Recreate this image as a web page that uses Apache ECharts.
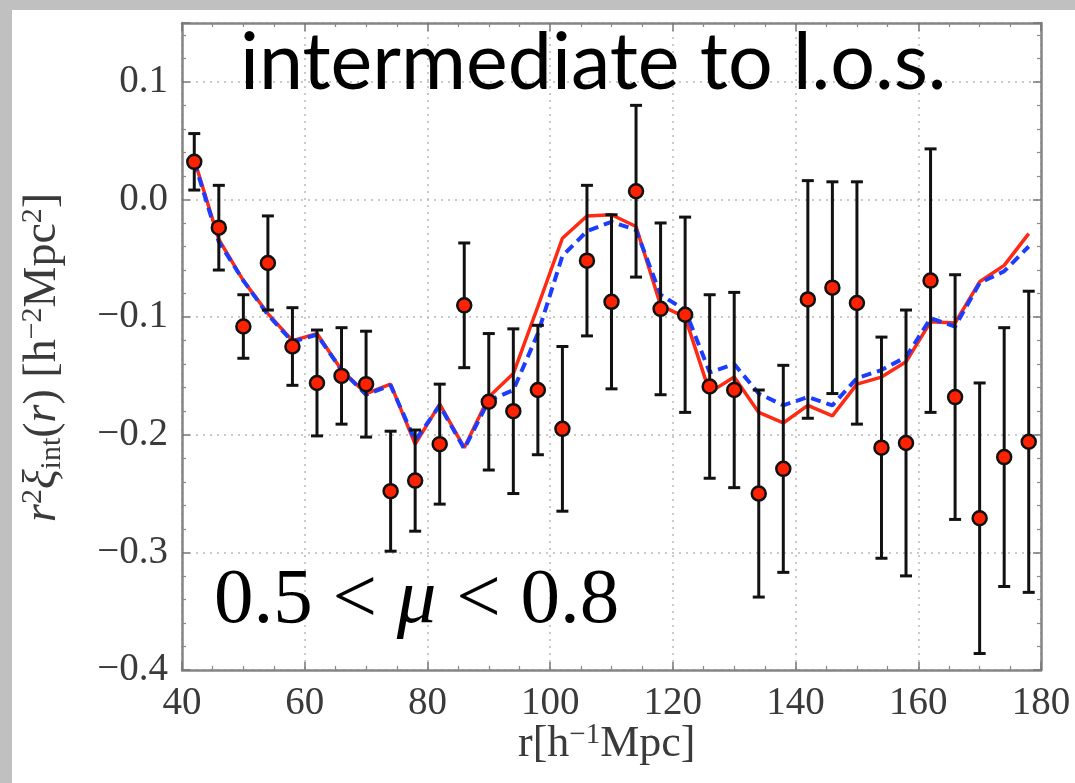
<!DOCTYPE html>
<html>
<head>
<meta charset="utf-8">
<script src="https://cdn.jsdelivr.net/npm/echarts@6/dist/echarts.min.js"></script>
<style>
  html, body { margin: 0; padding: 0; background: #c0c0c0; }
  #chart { width: 1075px; height: 783px; }
</style>
</head>
<body>
<div id="chart"></div>
<script>
// Separation r (h^-1 Mpc) of each bin
const rBins = [42, 46, 50, 54, 58, 62, 66, 70, 74, 78, 82, 86, 90, 94, 98, 102, 106, 110,
  114, 118, 122, 126, 130, 134, 138, 142, 146, 150, 154, 158, 162, 166, 170, 174, 178];

// Measured r^2 xi_int(r) with 1-sigma errors
const xiMeasured = [0.032, -0.024, -0.108, -0.054, -0.125, -0.156, -0.150, -0.157, -0.248, -0.239,
  -0.208, -0.090, -0.172, -0.180, -0.162, -0.195, -0.052, -0.087, 0.007, -0.093, -0.098, -0.159,
  -0.162, -0.250, -0.229, -0.085, -0.075, -0.088, -0.211, -0.207, -0.069, -0.168, -0.271, -0.219, -0.206];
const xiError = [0.024, 0.036, 0.027, 0.040, 0.033, 0.045, 0.041, 0.045, 0.051, 0.043,
  0.051, 0.053, 0.058, 0.070, 0.055, 0.070, 0.064, 0.074, 0.073, 0.073, 0.083, 0.078,
  0.083, 0.088, 0.088, 0.101, 0.090, 0.103, 0.094, 0.113, 0.112, 0.104, 0.115, 0.110, 0.128];

// Model curves
const modelSolid = [0.034, -0.034, -0.069, -0.097, -0.120, -0.114, -0.145, -0.165, -0.157, -0.208,
  -0.174, -0.211, -0.168, -0.148, -0.091, -0.033, -0.014, -0.013, -0.023, -0.090, -0.100, -0.164,
  -0.151, -0.181, -0.190, -0.175, -0.184, -0.157, -0.151, -0.138, -0.104, -0.105, -0.070, -0.056, -0.029];
const modelDashed = [0.032, -0.036, -0.069, -0.098, -0.121, -0.115, -0.145, -0.166, -0.158, -0.205,
  -0.175, -0.212, -0.171, -0.162, -0.114, -0.048, -0.027, -0.019, -0.026, -0.081, -0.094, -0.147,
  -0.140, -0.165, -0.175, -0.168, -0.175, -0.152, -0.145, -0.134, -0.101, -0.108, -0.071, -0.061, -0.040];

// Axis ranges and tick spacing
const xRange = [40, 180], xStep = 20;
const yRange = [-0.4, 0.15], yStep = 0.1;

const serif = '"Liberation Serif", "DejaVu Serif", serif';
const frameColor = '#858585';
const labelColor = '#3a3a3a';

const fmtY = v => {
  const s = (Math.abs(v) < 1e-9 ? 0 : v).toFixed(1);
  return s.replace('-', '\u2212');
};

const chart = echarts.init(document.getElementById('chart'), null, { renderer: 'canvas' });

const errBarData = rBins.map((r, i) => [r, xiMeasured[i] - xiError[i], xiMeasured[i] + xiError[i]]);

function baseX(pos, labels) {
  return {
    type: 'value', position: pos, min: xRange[0], max: xRange[1], interval: xStep,
    axisLine: { show: true, onZero: false, lineStyle: { color: frameColor, width: 2.5 } },
    axisTick: { show: true, inside: true, length: 8, lineStyle: { color: '#777', width: 1.5 } },
    minorTick: { show: true, splitNumber: 4, length: 4, lineStyle: { color: '#888', width: 1.2 } },
    axisLabel: labels ? { show: true, margin: 14, color: labelColor, fontFamily: serif, fontSize: 39 } : { show: false },
    splitLine: labels ? { show: true, lineStyle: { color: '#b9b9b9', type: [2, 5], width: 1.5 } } : { show: false }
  };
}
function baseY(pos, labels) {
  return {
    type: 'value', position: pos, min: yRange[0], max: yRange[1], interval: yStep,
    axisLine: { show: true, onZero: false, lineStyle: { color: frameColor, width: 2.5 } },
    axisTick: { show: true, inside: true, length: 8, lineStyle: { color: '#777', width: 1.5 } },
    minorTick: { show: true, splitNumber: 5, length: 4, lineStyle: { color: '#888', width: 1.2 } },
    axisLabel: labels ? { show: true, margin: 14, color: labelColor, fontFamily: serif, fontSize: 39,
      showMaxLabel: false, formatter: fmtY } : { show: false },
    splitLine: labels ? { show: true, lineStyle: { color: '#b9b9b9', type: [2, 5], width: 1.5 } } : { show: false }
  };
}

const option = {
  animation: false,
  backgroundColor: 'transparent',
  grid: { left: 182, right: 34, top: 23, bottom: 113 },
  xAxis: [baseX('bottom', true), baseX('top', false)],
  yAxis: [baseY('left', true), baseY('right', false)],
  graphic: [
    { type: 'rect', z: -10, shape: { x: 12, y: 10, width: 1075, height: 783 }, style: { fill: '#ffffff' } },
    { type: 'text', z: 50, left: 240, top: 24,
      style: { text: 'intermediate to l.o.s.', font: '400 79px Lato, "Open Sans", sans-serif', fill: '#000' } },
    { type: 'text', z: 50, left: 214, top: 562,
      style: { text: '{n|0.5 < }{m|\u03bc}{n| < 0.8}', rich: {
        n: { fontFamily: serif, fontSize: 79, fill: '#000' },
        m: { fontFamily: serif, fontSize: 79, fontStyle: 'italic', fill: '#000' } } } },
    { type: 'text', z: 50, left: 518, top: 721,
      style: { text: '{n|r[h}{s|\u22121}{n|Mpc]}', rich: {
        n: { fontFamily: serif, fontSize: 44, fill: labelColor },
        s: { fontFamily: serif, fontSize: 29, fill: labelColor, padding: [0, 0, 17, 0] } } } },
    { type: 'text', z: 50, x: 18, y: 522, rotation: Math.PI / 2,
      style: { text: '{i|r}{s|2}{i|\u03be}{b|int}{n|(}{i|r}{n|) [h}{s|\u22122}{n|Mpc}{s|2}{n|]}', rich: {
        n: { fontFamily: serif, fontSize: 46, fill: labelColor },
        i: { fontFamily: serif, fontSize: 46, fontStyle: 'italic', fill: labelColor },
        s: { fontFamily: serif, fontSize: 30, fill: labelColor, padding: [0, 0, 19, 0] },
        b: { fontFamily: serif, fontSize: 30, fill: labelColor, padding: [19, 0, 0, 0] } } } }
  ],
  series: [
    { type: 'line', name: 'model', data: rBins.map((r, i) => [r, modelSolid[i]]), showSymbol: false,
      lineStyle: { color: '#ff2a14', width: 3.5 }, z: 3 },
    { type: 'line', name: 'model dashed', data: rBins.map((r, i) => [r, modelDashed[i]]), showSymbol: false,
      lineStyle: { color: '#1c3dff', width: 4, type: [10, 6] }, z: 4 },
    { type: 'custom', name: 'errors', data: errBarData, z: 5,
      renderItem: (params, api) => {
        const x = api.value(0);
        const lo = api.coord([x, api.value(1)]);
        const hi = api.coord([x, api.value(2)]);
        const w = 6;
        const st = { stroke: '#111', lineWidth: 3 };
        return { type: 'group', children: [
          { type: 'line', shape: { x1: lo[0], y1: lo[1], x2: hi[0], y2: hi[1] }, style: st },
          { type: 'line', shape: { x1: lo[0] - w, y1: lo[1], x2: lo[0] + w, y2: lo[1] }, style: st },
          { type: 'line', shape: { x1: hi[0] - w, y1: hi[1], x2: hi[0] + w, y2: hi[1] }, style: st }
        ] };
      } },
    { type: 'scatter', name: 'data', data: rBins.map((r, i) => [r, xiMeasured[i]]), z: 6,
      symbol: 'circle', symbolSize: 14,
      itemStyle: { color: '#ff2200', borderColor: '#111', borderWidth: 2.5, opacity: 1 } }
  ]
};
chart.setOption(option);
</script>
</body>
</html>
